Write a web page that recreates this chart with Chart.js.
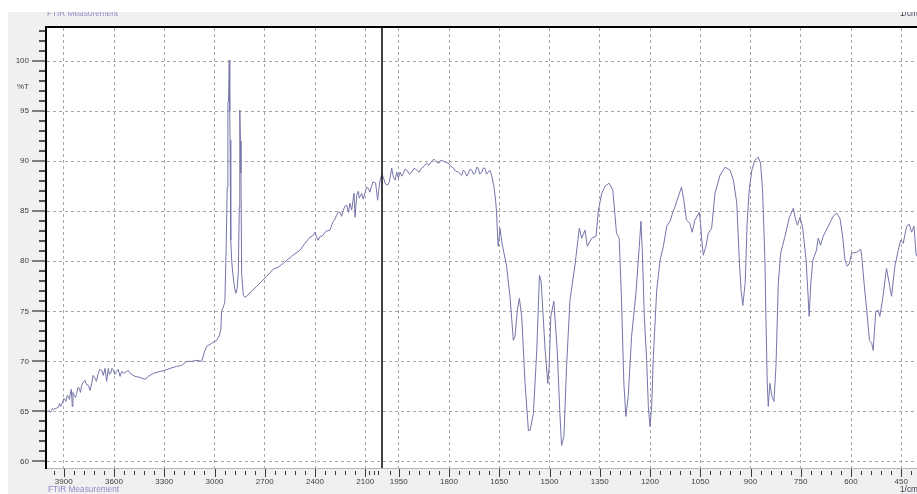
<!DOCTYPE html>
<html>
<head>
<meta charset="utf-8">
<title>FTIR Measurement</title>
<script src="https://cdn.jsdelivr.net/npm/chart.js@4/dist/chart.umd.min.js"></script>
<style>
  html, body { margin: 0; padding: 0; background: #ffffff; }
  #wrap { position: absolute; left: 0; top: 0; width: 917px; height: 494px; }
</style>
</head>
<body>
<div id="wrap"><canvas id="ftir" width="917" height="494"></canvas></div>
<script>
// Spectrum: wavenumber (1/cm) and transmittance (%T)
const wavenumbers = [
  // 4000 - 3475
  3994, 3988, 3980, 3975, 3968, 3962, 3933, 3925, 3918, 3912, 3899, 3887, 3880, 3873, 3866, 3859,
  3855, 3849, 3845, 3839, 3830, 3823, 3815, 3807, 3800, 3793, 3785, 3773, 3765, 3753, 3743, 3733,
  3725, 3713, 3705, 3694, 3685, 3673, 3664, 3654, 3644, 3634, 3628, 3620, 3612, 3604, 3595, 3584,
  3575, 3564, 3554, 3540, 3524, 3515, 3504, 3475,
  // 3445 - 2311
  3445, 3415, 3395, 3365, 3325, 3296, 3266, 3226, 3196, 3166, 3136, 3106, 3076, 3063, 3047, 3017,
  2987, 2971, 2962, 2958, 2950, 2944, 2938, 2931, 2924, 2920, 2916, 2912, 2909, 2907, 2903, 2897,
  2891, 2880, 2872, 2865, 2858, 2852, 2850, 2848, 2845, 2842, 2838, 2828, 2818, 2808, 2780, 2748,
  2718, 2688, 2650, 2620, 2589, 2540, 2490, 2460, 2430, 2410, 2400, 2390, 2382, 2370, 2358, 2334,
  2311,
  // 2291 - 1673
  2291, 2281, 2271, 2261, 2251, 2241, 2231, 2221, 2211, 2201, 2191, 2181, 2167, 2161, 2151, 2141,
  2136, 2121, 2112, 2102, 2092, 2082, 2072, 2062, 2055, 2048, 2038, 2026, 2012, 2002, 1996, 1991,
  1984, 1978, 1971, 1966, 1961, 1956, 1951, 1946, 1941, 1936, 1931, 1926, 1918, 1911, 1904, 1896,
  1889, 1882, 1874, 1867, 1860, 1852, 1845, 1837, 1830, 1824, 1817, 1810, 1802, 1795, 1787, 1780,
  1772, 1762, 1757, 1752, 1747, 1742, 1737, 1732, 1727, 1722, 1717, 1713, 1708, 1702, 1698, 1693,
  1688, 1683, 1678, 1673,
  // 1666 - 403
  1666, 1661, 1658, 1655, 1653, 1648, 1643, 1640, 1628, 1618, 1608, 1603, 1596, 1590, 1583, 1573,
  1563, 1558, 1548, 1538, 1530, 1525, 1513, 1505, 1501, 1496, 1487, 1477, 1469, 1464, 1457, 1449,
  1439, 1424, 1411, 1404, 1394, 1387, 1374, 1361, 1354, 1344, 1334, 1322, 1311, 1300, 1292, 1285,
  1278, 1272, 1265, 1255, 1242, 1232, 1227, 1223, 1217, 1210, 1205, 1200, 1195, 1190, 1180, 1170,
  1160, 1150, 1140, 1131, 1126, 1111, 1106, 1099, 1091, 1081, 1074, 1066, 1053, 1049, 1046, 1041,
  1033, 1026, 1016, 1006, 991, 976, 961, 951, 941, 933, 928, 923, 916, 910, 904, 896,
  887, 877, 870, 864, 857, 854, 850, 847, 842, 836, 830, 824, 817, 810, 797, 784,
  772, 767, 760, 752, 744, 734, 728, 725, 720, 714, 703, 698, 691, 683, 668, 653,
  643, 633, 625, 618, 611, 605, 598, 583, 571, 568, 561, 553, 545, 538, 534, 526,
  519, 514, 506, 494, 486, 479, 469, 459, 452, 444, 434, 426, 419, 412, 406, 403
];
const transmittance = [
  // 4000 - 3475
  65.0, 65.1, 64.9, 65.0, 65.3, 65.2, 65.4, 65.8, 65.5, 65.7, 66.3, 66.0, 66.6, 66.5, 66.2, 67.0,
  67.2, 65.5, 66.9, 66.6, 66.4, 66.8, 67.4, 67.3, 66.9, 67.6, 67.9, 68.1, 67.7, 67.6, 67.1, 67.8,
  68.6, 68.3, 68.0, 68.8, 69.2, 69.1, 68.6, 69.3, 68.0, 69.3, 68.7, 68.8, 69.3, 69.1, 68.7, 69.0,
  69.2, 68.5, 69.0, 68.8, 69.0, 69.1, 68.8, 68.5,
  // 3445 - 2311
  68.4, 68.2, 68.5, 68.8, 69.0, 69.1, 69.3, 69.5, 69.6, 70.0, 70.0, 70.1, 70.0, 70.8, 71.5, 71.8,
  72.1, 72.6, 73.2, 75.0, 75.3, 75.6, 76.0, 80.8, 87.4, 95.8, 96.0, 100.1, 95.0, 92.1, 82.1, 80.0,
  78.8, 77.3, 76.8, 77.3, 78.8, 85.4, 89.0, 95.1, 92.0, 88.8, 78.8, 76.6, 76.4, 76.5, 77.0, 77.5,
  78.0, 78.5, 79.2, 79.4, 79.8, 80.5, 81.1, 81.8, 82.4, 82.6, 82.9, 82.4, 82.1, 82.5, 82.5, 83.0,
  83.1,
  // 2291 - 1673
  84.0, 84.2, 84.6, 84.9, 84.9, 84.5, 85.1, 85.5, 85.6, 84.9, 85.8, 85.1, 86.8, 84.4, 86.6, 87.0,
  86.3, 86.8, 86.2, 86.8, 87.4, 87.3, 86.9, 87.5, 87.9, 87.9, 87.8, 86.1, 88.1, 88.6, 88.4, 87.8,
  87.6, 87.9, 89.3, 88.4, 88.1, 88.9, 88.3, 88.9, 88.5, 88.8, 89.2, 89.1, 88.7, 88.9, 89.3, 89.1,
  88.9, 89.3, 89.5, 89.8, 89.6, 90.0, 90.2, 89.9, 89.8, 90.1, 90.0, 89.9, 89.8, 89.5, 89.3, 89.0,
  88.9, 88.6, 89.1, 88.9, 88.5, 88.8, 89.2, 89.1, 88.7, 88.8, 89.4, 89.3, 88.7, 88.9, 89.3, 89.3,
  88.7, 88.9, 89.1, 88.6,
  // 1666 - 403
  87.5, 86.1, 84.9, 82.5, 81.5, 83.3, 82.1, 81.5, 79.5, 76.5, 72.1, 72.5, 75.1, 76.3, 74.5, 67.8,
  63.1, 63.1, 64.8, 71.1, 78.6, 78.0, 71.1, 67.8, 69.5, 74.5, 76.0, 71.1, 64.8, 61.6, 62.5, 69.5,
  76.1, 79.6, 83.3, 82.3, 83.1, 81.5, 82.3, 82.5, 85.1, 86.8, 87.5, 87.8, 87.1, 82.8, 82.3, 76.1,
  67.8, 64.5, 66.5, 72.5, 76.8, 81.5, 84.0, 81.1, 74.5, 70.1, 65.5, 63.5, 65.5, 70.5, 77.1, 80.1,
  81.5, 83.5, 84.0, 85.0, 85.4, 86.9, 87.4, 86.1, 84.1, 83.8, 82.9, 84.1, 84.9, 83.8, 82.3, 80.6,
  81.5, 82.8, 83.3, 86.8, 88.6, 89.4, 89.1, 88.1, 85.8, 79.8, 77.1, 75.6, 77.8, 83.8, 87.1, 89.1,
  90.1, 90.4, 89.8, 87.1, 80.1, 74.5, 67.8, 65.5, 67.8, 66.5, 66.0, 69.5, 77.8, 80.8, 82.5, 84.4,
  85.3, 84.4, 83.6, 84.4, 83.3, 80.1, 76.5, 74.5, 77.8, 80.1, 81.1, 82.3, 81.6, 82.5, 83.5, 84.5,
  84.8, 84.3, 82.5, 80.1, 79.5, 79.8, 80.8, 80.9, 81.2, 80.5, 77.8, 75.1, 72.1, 71.8, 71.1, 75.0,
  75.1, 74.5, 76.1, 79.3, 77.8, 76.5, 79.5, 81.1, 82.1, 81.8, 83.5, 83.7, 82.9, 83.5, 80.8, 80.5
];

// Axis labels
const xTickLabels = [3900, 3600, 3300, 3000, 2700, 2400, 2100,
                     1950, 1800, 1650, 1500, 1350, 1200, 1050, 900, 750, 600, 450];
const yTickLabels = [60, 65, 70, 75, 80, 85, 90, 95, 100];

// The wavenumber axis runs from 4000 down to ~403 1/cm with a break at 2000:
// below the break one wavenumber takes twice the width.
const W_START = 4000, W_BREAK = 2000, W_END = 403;
const T_MIN = 59.35, T_MAX = 103.3;

function toAxis(w) {
  return w >= W_BREAK ? W_START - w : (W_START - W_BREAK) + 2 * (W_BREAK - w);
}
function fromAxis(u) {
  return u <= (W_START - W_BREAK) ? W_START - u : W_BREAK - (u - (W_START - W_BREAK)) / 2;
}

// Small unlabelled tick positions
const xMinorTicks = [];
for (let w = 3960; w > 2100; w -= 60) if (w % 300 !== 0) xMinorTicks.push(w);
xMinorTicks.push(2075, 2050, 2025, 1975);
for (let w = 1920; w >= 420; w -= 30) if (w % 150 !== 0) xMinorTicks.push(w);
const yMinorTicks = [];
for (let v = 60; v <= 103; v++) if (v % 5 !== 0) yMinorTicks.push(v);

const points = wavenumbers.map((w, i) => ({ x: toAxis(w), y: transmittance[i] }));

const LABEL_FONT = '8px "Liberation Sans", Arial, sans-serif';

// Grey instrument panel, frame lines, tick marks and captions
const framePlugin = {
  id: 'frame',
  beforeDraw(chart) {
    const { ctx, chartArea: a, width, height } = chart;
    ctx.save();
    ctx.fillStyle = '#ffffff';
    ctx.fillRect(0, 0, width, height);
    ctx.fillStyle = '#f0f0f0';
    ctx.fillRect(8, 12, width - 8, height - 12);
    ctx.fillStyle = '#ffffff';
    ctx.fillRect(a.left, a.top, a.right - a.left, a.bottom - a.top);
    ctx.restore();
  },
  afterDraw(chart) {
    const { ctx, chartArea: a, scales, width, height } = chart;
    const xs = scales.x, ys = scales.y;
    ctx.save();

    // bottom edge of the plot
    ctx.strokeStyle = '#b4b4b4';
    ctx.lineWidth = 1;
    ctx.beginPath();
    ctx.moveTo(a.left, a.bottom + 0.5);
    ctx.lineTo(a.right, a.bottom + 0.5);
    ctx.stroke();

    // y tick marks
    ctx.lineWidth = 2;
    ctx.strokeStyle = '#7c7c7c';
    yTickLabels.forEach(v => {
      const py = Math.round(ys.getPixelForValue(v));
      ctx.beginPath(); ctx.moveTo(a.left - 15, py); ctx.lineTo(a.left, py); ctx.stroke();
    });
    ctx.strokeStyle = '#555555';
    yMinorTicks.forEach(v => {
      const py = Math.round(ys.getPixelForValue(v));
      ctx.beginPath(); ctx.moveTo(a.left - 8, py); ctx.lineTo(a.left, py); ctx.stroke();
    });

    // x tick marks
    ctx.lineWidth = 1;
    ctx.strokeStyle = '#3a3a3a';
    xTickLabels.forEach(w => {
      const px = Math.round(xs.getPixelForValue(toAxis(w))) + 0.5;
      ctx.beginPath(); ctx.moveTo(px, a.bottom + 1); ctx.lineTo(px, a.bottom + 9); ctx.stroke();
    });
    xMinorTicks.forEach(w => {
      const px = Math.round(xs.getPixelForValue(toAxis(w))) + 0.5;
      ctx.beginPath(); ctx.moveTo(px, a.bottom + 3); ctx.lineTo(px, a.bottom + 7); ctx.stroke();
    });

    // break line at 2000 1/cm
    const bx = xs.getPixelForValue(toAxis(W_BREAK));
    ctx.strokeStyle = '#000000';
    ctx.lineWidth = 1.5;
    ctx.beginPath(); ctx.moveTo(bx, a.top); ctx.lineTo(bx, a.bottom); ctx.stroke();

    // frame: left and top
    ctx.lineWidth = 2;
    ctx.beginPath(); ctx.moveTo(a.left - 1, a.top - 1); ctx.lineTo(a.left - 1, a.bottom + 1); ctx.stroke();
    ctx.beginPath(); ctx.moveTo(a.left - 2, a.top - 1); ctx.lineTo(a.right, a.top - 1); ctx.stroke();

    // captions
    ctx.font = LABEL_FONT;
    ctx.textBaseline = 'middle';
    ctx.fillStyle = '#444444';
    ctx.textAlign = 'right';
    ctx.fillText('%T', 29, ys.getPixelForValue(97.43));

    ctx.save();
    ctx.beginPath();
    ctx.rect(8, 12, width - 8, height - 12);
    ctx.clip();
    ctx.font = '8.25px "Liberation Sans", Arial, sans-serif';
    ctx.textAlign = 'left';
    ctx.fillStyle = '#8d8dc6';
    ctx.fillText('FTIR Measurement', a.left, 13.8);
    ctx.fillText('FTIR Measurement', a.left + 1, 489.5);
    ctx.fillStyle = '#3c3c50';
    ctx.fillText('1/cm', 900, 13.8);
    ctx.fillText('1/cm', 900, 489.5);
    ctx.restore();

    ctx.restore();
  }
};

new Chart(document.getElementById('ftir'), {
  type: 'line',
  data: {
    datasets: [{
      data: points,
      borderColor: '#7575aa',
      borderWidth: 1,
      pointRadius: 0,
      tension: 0,
      fill: false
    }]
  },
  options: {
    responsive: false,
    animation: false,
    devicePixelRatio: 1,
    layout: { padding: { left: 8, top: 28, right: 0, bottom: 0 } },
    plugins: { legend: { display: false }, tooltip: { enabled: false }, title: { display: false } },
    scales: {
      x: {
        type: 'linear',
        min: toAxis(W_START),
        max: toAxis(W_END),
        offset: false,
        border: { display: false, dash: [3, 3] },
        grid: { color: '#a6a6a6', lineWidth: 1, drawTicks: false },
        ticks: {
          autoSkip: false,
          maxRotation: 0,
          minRotation: 0,
          padding: 9,
          color: '#404040',
          font: { family: '"Liberation Sans", Arial, sans-serif', size: 8 },
          callback: (value) => String(Math.round(fromAxis(value)))
        },
        afterBuildTicks(scale) {
          scale.ticks = xTickLabels.map(w => ({ value: toAxis(w) }));
        },
        afterFit(scale) {
          scale.height = 26;
          scale.paddingLeft = 0; scale.paddingRight = 0;
          scale.paddingTop = 0; scale.paddingBottom = 0;
        }
      },
      y: {
        type: 'linear',
        min: T_MIN,
        max: T_MAX,
        border: { display: false, dash: [3, 3] },
        grid: { color: '#a6a6a6', lineWidth: 1, drawTicks: false },
        ticks: {
          padding: 18,
          color: '#404040',
          font: { family: '"Liberation Sans", Arial, sans-serif', size: 8 },
          includeBounds: false
        },
        afterBuildTicks(scale) {
          scale.ticks = yTickLabels.map(v => ({ value: v }));
        },
        afterFit(scale) {
          scale.width = 39;
          scale.paddingLeft = 0; scale.paddingRight = 0;
          scale.paddingTop = 0; scale.paddingBottom = 0;
        }
      }
    }
  },
  plugins: [framePlugin]
});
</script>
</body>
</html>
